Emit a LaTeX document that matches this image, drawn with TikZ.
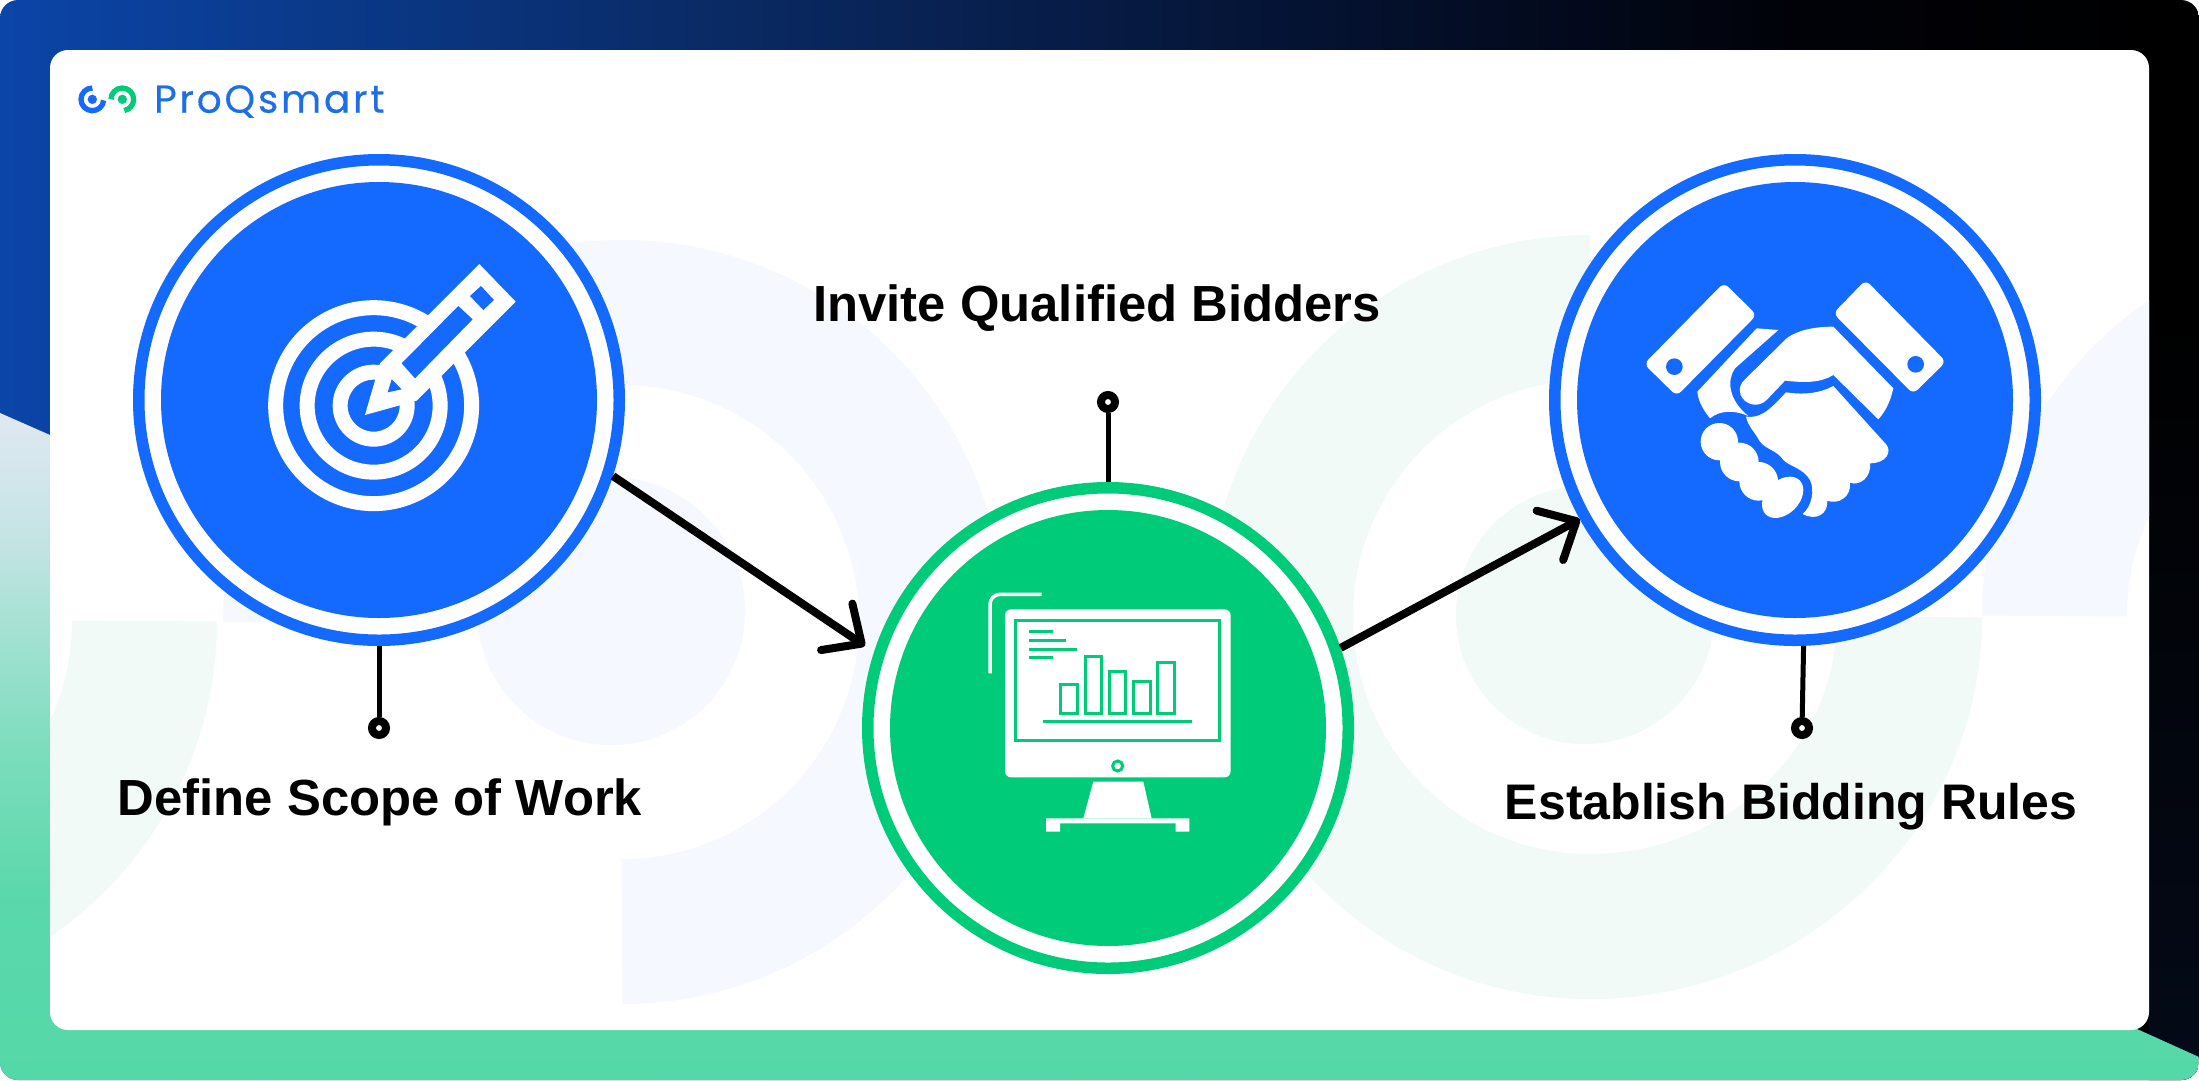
\documentclass[tikz,border=0pt]{standalone}
\usepackage{fontspec}
\setmainfont{Liberation Sans}
\newfontfamily\logofont[LetterSpace=7,FakeBold=0.3]{Poppins}
\usetikzlibrary{arrows.meta}

\definecolor{stepblue}{HTML}{1469FF}
\definecolor{stepgreen}{HTML}{00CB79}
\definecolor{logoblue}{HTML}{1E6EE8}
\definecolor{faintblue}{HTML}{F5F8FE}
\definecolor{faintgreen}{HTML}{F2FAF7}
\definecolor{nightA}{HTML}{0B45A8}
\definecolor{nightB}{HTML}{0A2B66}
\definecolor{nightC}{HTML}{040F2A}
\definecolor{nightD}{HTML}{010208}
\definecolor{nightE}{HTML}{040A18}
\definecolor{mintA}{HTML}{E0E8F2}
\definecolor{mintB}{HTML}{C4E4E4}
\definecolor{mintC}{HTML}{7CDDBC}
\definecolor{mintD}{HTML}{5AD8AC}
\definecolor{mintE}{HTML}{55D8A8}

\pgfdeclarehorizontalshading{nightshade}{100bp}{color(0bp)=(nightA); color(25bp)=(nightA); color(40.9bp)=(nightB); color(56.8bp)=(nightC); color(65.9bp)=(nightD); color(75bp)=(black); color(100bp)=(black)}
\pgfdeclareverticalshading{mintshade}{100bp}{color(0bp)=(mintE); color(25bp)=(mintE); color(38.5bp)=(mintD); color(49.7bp)=(mintC); color(65.5bp)=(mintB); color(75bp)=(mintA); color(100bp)=(mintA)}

\tikzset{
    stepring/.style={circle,draw=#1,fill=white,line width=11.5pt,minimum size=480.5pt,inner sep=0pt},
    stepdisc/.style={circle,fill=#1,minimum size=436pt,inner sep=0pt},
    steplabel/.style={font=\bfseries\fontsize{#1}{60}\selectfont,text=black,anchor=base,inner sep=0pt},
    steplabel/.default=50.8,
    pindot/.style={circle,draw=black,fill=white,line width=8pt,minimum size=14pt,inner sep=0pt},
    pinline/.style={black,line width=5pt},
    steparrow/.style={->,>={Straight Barb[length=30pt,width=56pt,round]},black,line width=8pt},
    faintring/.style={#1,line width=145pt}
}

\begin{document}
\begin{tikzpicture}[yscale=-1,x=1pt,y=1pt]

    \fill[white] (0,0) rectangle (2199,1080);

    \begin{scope}
    \clip[rounded corners=18pt] (0,0) rectangle (2199,1080);
    \shade[shading=nightshade] (0,0) rectangle (2199,1080);
    \shade[top color=black,bottom color=nightE] (2149,300) rectangle (2199,1080);
    \shade[shading=mintshade] (0,413) -- (50,435) -- (2137,1029) -- (2199,1057) -- (2199,1080) -- (0,1080) -- cycle;
    \end{scope}

    \fill[white,rounded corners=18pt] (50,50) rectangle (2149,1030);

    \begin{scope}
    \clip[rounded corners=18pt] (50,50) rectangle (2149,1030);
    \draw[faintring=faintgreen] (144.5,621) arc[start angle=0,end angle=90,radius=309.5];
    \draw[faintring=faintblue] (295.5,622) arc[start angle=180,end angle=270,x radius=326.5,y radius=309.5] arc[start angle=270,end angle=450,radius=309.5];
    \fill[faintblue] (611,611) circle (134);
    \draw[faintring=faintgreen] (1590,307.5) arc[start angle=270,end angle=90,radius=309.5] arc[start angle=90,end angle=0,x radius=319.5,y radius=309.5];
    \fill[faintgreen] (1585,615) circle (129);
    \draw[faintring=faintblue] (2054.5,616) arc[start angle=180,end angle=270,radius=309.5];
    \end{scope}

    \begin{scope}[shift={(60,70)},scale=.3333]
    \draw[stepblue,line width=5.3pt] (97,54) arc[start angle=270,end angle=5,radius=34];
    \fill[stepblue] (97,88) circle (14);
    \draw[stepgreen,line width=5.3pt] (153,88) arc[start angle=180,end angle=440,radius=34];
    \fill[stepgreen] (187,88) circle (14);
    \end{scope}
    \node[anchor=base west,inner sep=0pt,text=logoblue,font=\logofont\fontsize{39}{46}\selectfont] (brand) at (154,112.7) {ProQsmart};

    \node[stepring=stepblue] (scope) at (379,400) {};
    \node[stepdisc=stepblue] (scopedisc) at (scope) {};
    \node[stepring=stepgreen] (invite) at (1108,728) {};
    \node[stepdisc=stepgreen] (invitedisc) at (invite) {};
    \node[stepring=stepblue] (rules) at (1795,400) {};
    \node[stepdisc=stepblue] (rulesdisc) at (rules) {};

    \begin{scope}[shift={(220,220)},scale=.3333]
    \draw[white,line width=15pt] (461,557) circle (294);
    \draw[white,line width=15pt] (461,557) circle (199.5);
    \draw[white,line width=15pt] (461,557) circle (100.5);
    \fill[white] (778,132) -- (887,245) -- (590,542) -- (435,585) -- (480,430) -- cycle;
    \fill[stepblue] (783,198) -- (822,240) -- (790,270) -- (750,228) -- cycle;
    \fill[stepblue] (715,258) -- (758,298) -- (585,475) -- (545,430) -- cycle;
    \fill[stepblue] (515,478) -- (545,508) -- (503,517) -- cycle;
    \end{scope}

    \begin{scope}[shift={(950,570)},scale=.3333]
    \draw[white,line width=3.5pt,rounded corners=10pt] (120,310) -- (120,73) -- (275,73);
    \fill[white,rounded corners=6pt] (165,118) rectangle (842,622);
    \draw[stepgreen,line width=3pt] (195,150) rectangle (810,513);
    \draw[stepgreen,line width=3pt] (238,185) -- (310,185);
    \draw[stepgreen,line width=3pt] (238,211) -- (348,211);
    \draw[stepgreen,line width=3pt] (238,237) -- (380,237);
    \draw[stepgreen,line width=3pt] (238,263) -- (310,263);
    \draw[stepgreen,line width=3pt] (332,343) rectangle (382,430);
    \draw[stepgreen,line width=3pt] (405,260) rectangle (455,430);
    \draw[stepgreen,line width=3pt] (478,303) rectangle (528,430);
    \draw[stepgreen,line width=3pt] (551,333) rectangle (601,430);
    \draw[stepgreen,line width=3pt] (624,278) rectangle (675,430);
    \draw[stepgreen,line width=3pt] (280,455) -- (726,455);
    \draw[stepgreen,line width=3pt] (503,588) circle (15);
    \fill[white] (430,635) -- (580,635) -- (605,745) -- (400,745) -- cycle;
    \fill[white] (288,745) -- (718,745) -- (718,785) -- (677,785) -- (677,760) -- (330,760) -- (330,785) -- (288,785) -- cycle;
    \end{scope}

    \begin{scope}[shift={(1620,260)},scale=.3333]
    \fill[white,rounded corners=6pt] (312,68) -- (410,165) -- (170,408) -- (72,312) -- cycle;
    \fill[stepblue] (163,320) circle (25);
    \fill[white,rounded corners=6pt] (737,60) -- (978,305) -- (880,402) -- (640,160) -- cycle;
    \fill[stepblue] (887,313) circle (25);
    \fill[white] (410,205) -- (475,210) -- (345,325) .. controls (320,360) and (325,420) .. (385,468) .. controls (345,450) and (300,450) .. (270,475) .. controls (250,450) and (235,425) .. (232,395) -- cycle;
    \fill[white] (500,235) .. controls (540,205) and (600,200) .. (640,200) -- (820,385) .. controls (812,420) and (800,450) .. (775,478) -- (640,345) .. controls (600,370) and (550,368) .. (495,362) -- (440,420) .. controls (415,445) and (375,435) .. (362,405) .. controls (355,385) and (362,370) .. (375,358) -- cycle;
    \fill[white] (498,397) .. controls (550,405) and (600,400) .. (640,378) -- (800,555) .. controls (815,575) and (800,610) .. (750,610) .. controls (755,650) and (720,680) .. (690,668) .. controls (695,710) and (655,735) .. (622,722) .. controls (625,760) and (590,785) .. (548,762) .. controls (575,740) and (585,690) .. (570,660) .. controls (550,625) and (510,620) .. (490,600) .. controls (470,570) and (440,570) .. (420,545) .. controls (400,510) and (385,500) .. (378,470) .. controls (420,475) and (445,455) .. (498,397) -- cycle;
    \fill[white] (298,545) circle (56);
    \fill[white] (358,606) circle (58);
    \fill[white] (416,664) circle (58);
    \fill[white,rotate around={-45:(488,712)}] (488,712) ellipse (72 and 50);
    \end{scope}

    \node[pindot] (scopepin) at (379,728) {};
    \node[pindot] (invitepin) at (1108,402) {};
    \node[pindot] (rulespin) at (1802,728) {};
    \draw[pinline] (scope.south) -- (scopepin);
    \draw[pinline] (invite.north) -- (invitepin);
    \draw[pinline] (rules.-88) -- (rulespin);

    \node[steplabel] (scopetext) at (380,815.5) {Define Scope of Work};
    \node[steplabel] (invitetext) at (1097,321) {Invite Qualified Bidders};
    \node[steplabel=50] (rulestext) at (1791,819) {Establish Bidding Rules};

    \draw[steparrow,shorten >=11pt] (scope.-18) -- (invite.162);
    \draw[steparrow] (invite.19) -- (rules.209);

\end{tikzpicture}
\end{document}
